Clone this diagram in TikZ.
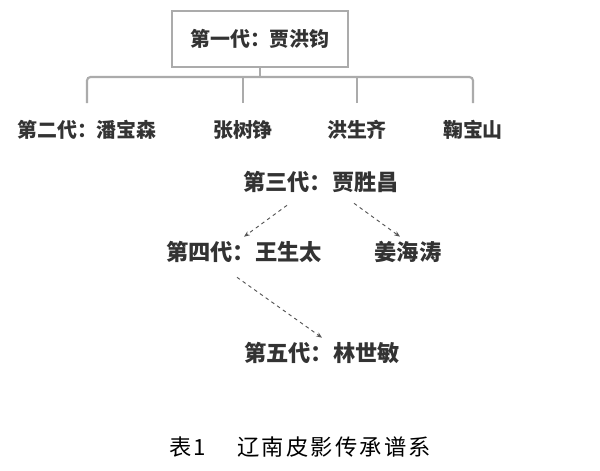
\documentclass[tikz,border=0pt]{standalone}
\usepackage{fontspec}
\usepackage{xcolor}
\usetikzlibrary{calc,arrows.meta}
\newfontfamily\cjk{Noto Sans CJK SC}
\newfontfamily\cjkcap{Noto Sans CJK SC}[LetterSpace=10]
\definecolor{PYGray}{HTML}{ABABAB}
\definecolor{PYInk}{HTML}{333333}
\definecolor{PYDash}{HTML}{555555}
\tikzset{
  gen/.style={text=PYInk,inner sep=2pt,font=\cjk\bfseries\fontsize{17}{20}\selectfont},
  genl/.style={gen,font=\cjk\bfseries\fontsize{19}{22}\selectfont},
  tree/.style={PYGray,line width=1.8pt,rounded corners=3pt},
  pass/.style={PYDash,dashed,line width=0.8pt,-{Stealth[length=5pt,width=4pt]}}
}

\begin{document}
\begin{tikzpicture}[x=0.03cm,y=-0.03cm]
\path[use as bounding box] (0,0) rectangle (600,470);
% first generation
\node[gen,draw=PYGray,line width=2pt,minimum width=5.28cm,minimum height=1.68cm] (g1) at (260,39) {第一代：贾洪钧};
% second generation
\node[gen] (g2a) at (87,130) {第二代：潘宝森};
\node[gen] (g2b) at (243,130) {张树铮};
\node[gen] (g2c) at (357,130) {洪生齐};
\node[gen] (g2d) at (473,130) {鞠宝山};
\coordinate (bus) at (0,77);
\coordinate (t2a) at (87,103);
\coordinate (t2b) at (243,103);
\coordinate (t2c) at (357,103);
\coordinate (t2d) at (473,103);
\draw[tree] (t2a) -- (t2a |- bus) -- (t2d |- bus) -- (t2d);
\draw[tree] (g1.south) -- (g1.south |- bus);
\draw[tree] (t2b) -- (t2b |- bus);
\draw[tree] (t2c) -- (t2c |- bus);
% third to fifth generation
\node[genl] (g3) at (321,182) {第三代：贾胜昌};
\node[genl] (g4a) at (244,252) {第四代：王生太};
\node[genl] (g4b) at (408,252) {姜海涛};
\node[genl] (g5) at (322,353) {第五代：林世敏};
\draw[pass] ($(g3.south)+(-34,10)$) -- ($(g4a.north)+(0,-2)$);
\draw[pass] ($(g3.south)+(33,8)$) -- ($(g4b.north)+(-8,-2)$);
\draw[pass] ($(g4a.south)+(-7,12)$) -- ($(g5.north)+(0,-2)$);
% caption
\node[font=\cjkcap\fontsize{19}{22}\selectfont,text=black] (cap) at (300,447) {表1\hspace{1.4em}辽南皮影传承谱系};
\end{tikzpicture}
\end{document}
